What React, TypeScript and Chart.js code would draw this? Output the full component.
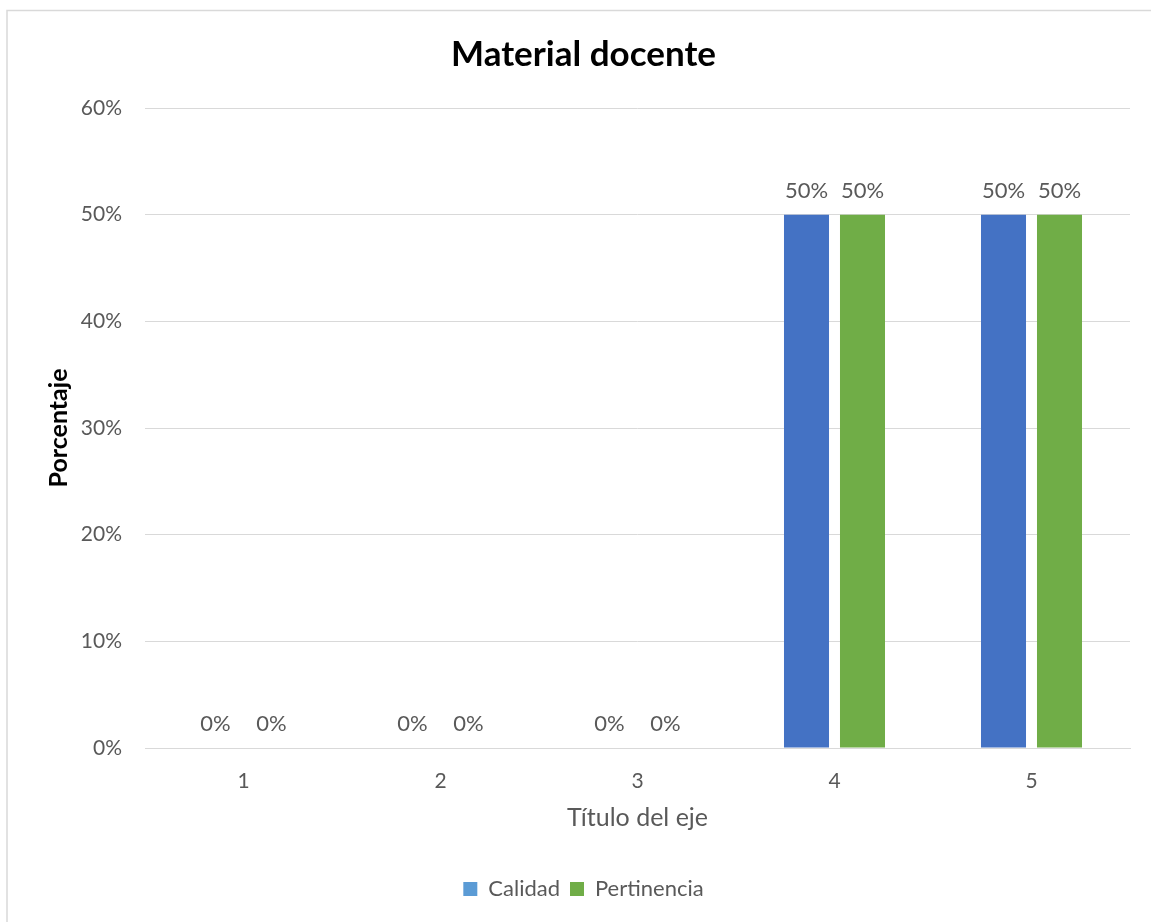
import React, { useEffect, useRef } from "react";
import { Chart, registerables } from "chart.js";

Chart.register(...registerables);

const categories = ["1", "2", "3", "4", "5"];
const calidad = [0, 0, 0, 50, 50];
const pertinencia = [0, 0, 0, 50, 50];
const seriesNames = ["Calidad", "Pertinencia"];
const yTicks = [0, 10, 20, 30, 40, 50, 60];

const FONT = "Lato, 'Open Sans', 'Noto Sans', sans-serif";
const TXT = "#595959";

const borderPlugin = {
  id: "frame",
  beforeDraw(chart: any) {
    const ctx = chart.ctx;
    ctx.save();
    ctx.fillStyle = "#ffffff";
    ctx.fillRect(0, 0, chart.width, chart.height);
    ctx.strokeStyle = "#D9D9D9";
    ctx.lineWidth = 1.5;
    ctx.strokeRect(7, 10.5, chart.width + 10, chart.height + 10);
    ctx.restore();
  },
};

const labelPlugin = {
  id: "valueLabels",
  afterDatasetsDraw(chart: any) {
    const ctx = chart.ctx;
    ctx.save();
    ctx.font = `22px ${FONT}`;
    ctx.fillStyle = TXT;
    ctx.textAlign = "center";
    ctx.textBaseline = "bottom";
    chart.data.datasets.forEach((ds: any, i: number) => {
      const meta = chart.getDatasetMeta(i);
      meta.data.forEach((bar: any, j: number) => {
        const v = ds.data[j];
        ctx.fillText(v + "%", bar.x, bar.y - 13);
      });
    });
    ctx.restore();
  },
};

export default function App() {
  const ref = useRef<HTMLCanvasElement | null>(null);
  useEffect(() => {
    if (!ref.current) return;
    const chart = new Chart(ref.current, {
      type: "bar",
      data: {
        labels: categories,
        datasets: [
          {
            label: seriesNames[0],
            data: calidad,
            backgroundColor: "#4472C4",
            categoryPercentage: 0.5685,
            barPercentage: 0.804,
          },
          {
            label: seriesNames[1],
            data: pertinencia,
            backgroundColor: "#70AD47",
            categoryPercentage: 0.5685,
            barPercentage: 0.804,
          },
        ],
      },
      options: {
        animation: false,
        responsive: false,
        maintainAspectRatio: false,
        layout: { padding: { left: 16, top: 10, right: 0, bottom: 12 } },
        plugins: {
          title: {
            display: true,
            text: "Material docente",
            color: "#000000",
            font: { family: FONT, size: 35, weight: "bold", lineHeight: 1.2 },
            padding: { top: 24, bottom: 32 },
          },
          legend: {
            position: "bottom",
            labels: {
              color: TXT,
              font: { family: FONT, size: 22 },
              boxWidth: 14,
              boxHeight: 14,
              padding: 10,
              generateLabels: () =>
                seriesNames.map((n, i) => ({
                  text: n,
                  fillStyle: i === 0 ? "#5B9BD5" : "#70AD47",
                  strokeStyle: i === 0 ? "#5B9BD5" : "#70AD47",
                  lineWidth: 0,
                  hidden: false,
                  datasetIndex: i,
                  fontColor: TXT,
                })),
            },
          },
          tooltip: { enabled: false },
        },
        scales: {
          x: {
            grid: { display: false, drawTicks: false },
            border: { display: true, color: "#D9D9D9", width: 1 },
            ticks: { color: TXT, font: { family: FONT, size: 21 }, padding: 21 },
            title: {
              display: true,
              text: "Título del eje",
              color: TXT,
              font: { family: FONT, size: 25, lineHeight: 1.2 },
              padding: { top: 0, bottom: 35 },
            },
            afterFit: (s: any) => {
              s.height = 120;
            },
          },
          y: {
            min: 0,
            max: 60,
            afterBuildTicks: (s: any) => {
              s.ticks = yTicks.map((v) => ({ value: v }));
            },
            grid: { color: "#D9D9D9", lineWidth: 1, drawTicks: false },
            border: { display: false },
            ticks: {
              color: TXT,
              font: { family: FONT, size: 21 },
              padding: 23,
              callback: (v: any) => v + "%",
            },
            title: {
              display: true,
              text: "Porcentaje",
              color: "#000000",
              font: { family: FONT, size: 25, weight: "bold", lineHeight: 1.2 },
              padding: { top: 28, bottom: 0 },
            },
            afterFit: (s: any) => {
              s.width = 129;
            },
          },
          yRight: {
            position: "right",
            min: 0,
            max: 60,
            grid: { display: false, drawTicks: false },
            border: { display: false },
            ticks: { display: false },
            afterFit: (s: any) => {
              s.width = 21;
            },
          },
        },
      },
      plugins: [borderPlugin, labelPlugin],
    });
    return () => chart.destroy();
  }, []);
  return (
    <div style={{ position: "fixed", left: 0, top: 0, width: 1151, height: 922 }}>
      <canvas ref={ref} width={1151} height={922} style={{ display: "block" }} />
    </div>
  );
}
